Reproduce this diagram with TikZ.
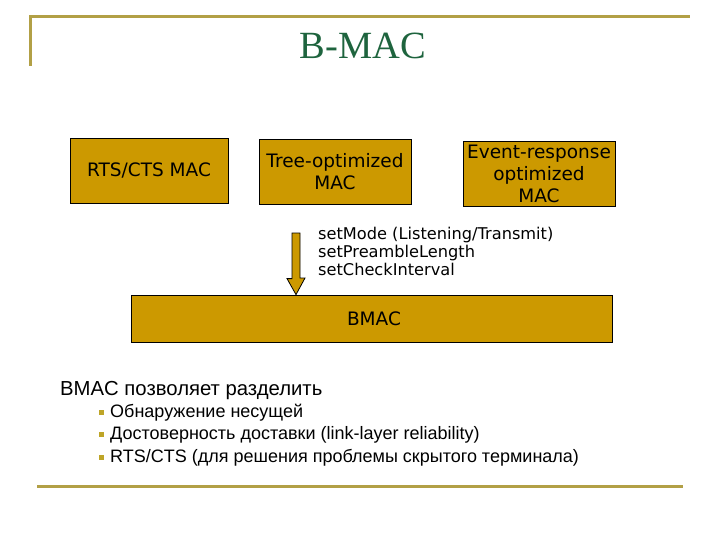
\documentclass[tikz,border=0pt]{standalone}
\usepackage{fontspec}
\setmainfont{Liberation Sans}
\newfontfamily\boxfont{DejaVu Sans}
\newfontfamily\titlefont{Liberation Serif}
\usetikzlibrary{calc}
\definecolor{goldbox}{RGB}{204,153,0}
\definecolor{ruleol}{RGB}{178,160,70}
\definecolor{titlegreen}{RGB}{30,100,62}
\definecolor{bulletol}{RGB}{190,165,40}
\tikzset{
  macbox/.style={draw=black, line width=0.8pt, fill=goldbox, inner sep=0pt, align=center,
    font=\boxfont\fontsize{18.5}{22}\selectfont},
  rulestyle/.style={draw=ruleol, line width=3pt},
  blockarrow/.style={draw=black, line width=0.8pt, fill=goldbox, line join=miter},
  bulletsq/.style={fill=bulletol, inner sep=0pt, minimum size=5pt},
  bodytext/.style={anchor=base west, inner sep=0pt, font=\fontsize{18}{20}\selectfont}
}
\begin{document}
\begin{tikzpicture}[x=1pt,y=-1pt]
\useasboundingbox (0,0) rectangle (720,540);
% rules
\draw[rulestyle] (30,66) -- (30,17) -- (690,17);
\draw[rulestyle] (37,486.5) -- (683,486.5);
% title
\node[anchor=base, inner sep=0pt, text=titlegreen, font=\titlefont\fontsize{38.5}{40}\selectfont] (title) at (363,59) {B-MAC};
% boxes
\node[macbox, minimum width=158pt, minimum height=65pt] (rts) at (149,170.5) {RTS/CTS MAC};
\node[macbox, minimum width=152pt, minimum height=65pt] (tree) at (335,171.5) {Tree-optimized\\MAC};
\node[macbox, minimum width=152pt, minimum height=65pt] (event) at (539,173.5) {Event-response\\optimized\\MAC};
\node[macbox, minimum width=481pt, minimum height=47pt] (bmac) at (371.5,318.5) {\hspace*{5pt}BMAC};
% set text
\node[anchor=north west, inner sep=0pt, align=left, font=\boxfont\fontsize{16.2}{17.8}\selectfont] (settext) at (318,227) {setMode (Listening/Transmit)\\setPreambleLength\\setCheckInterval};
% block arrow
\coordinate (arrtop) at (296,233);
\draw[blockarrow] ($(arrtop)+(-4,0)$) -- ++(8,0) -- ++(0,45) -- ++(5,0) -- (arrtop |- bmac.north) -- ++(-9,-16) -- ++(5,0) -- cycle;
% bottom text
\node[anchor=base west, inner sep=0pt, font=\fontsize{20.3}{22}\selectfont] (head) at (60,395) {BMAC позволяет разделить};
\node[bulletsq] (b1) at (101.5,412) {};
\node[bodytext] (t1) at (110,417) {Обнаружение несущей};
\node[bulletsq] (b2) at (101.5,434.5) {};
\node[bodytext] (t2) at (110,439.5) {Достоверность доставки (link-layer reliability)};
\node[bulletsq] (b3) at (101.5,457) {};
\node[bodytext] (t3) at (110,462) {RTS/CTS (для решения проблемы скрытого терминала)};
\end{tikzpicture}
\end{document}
